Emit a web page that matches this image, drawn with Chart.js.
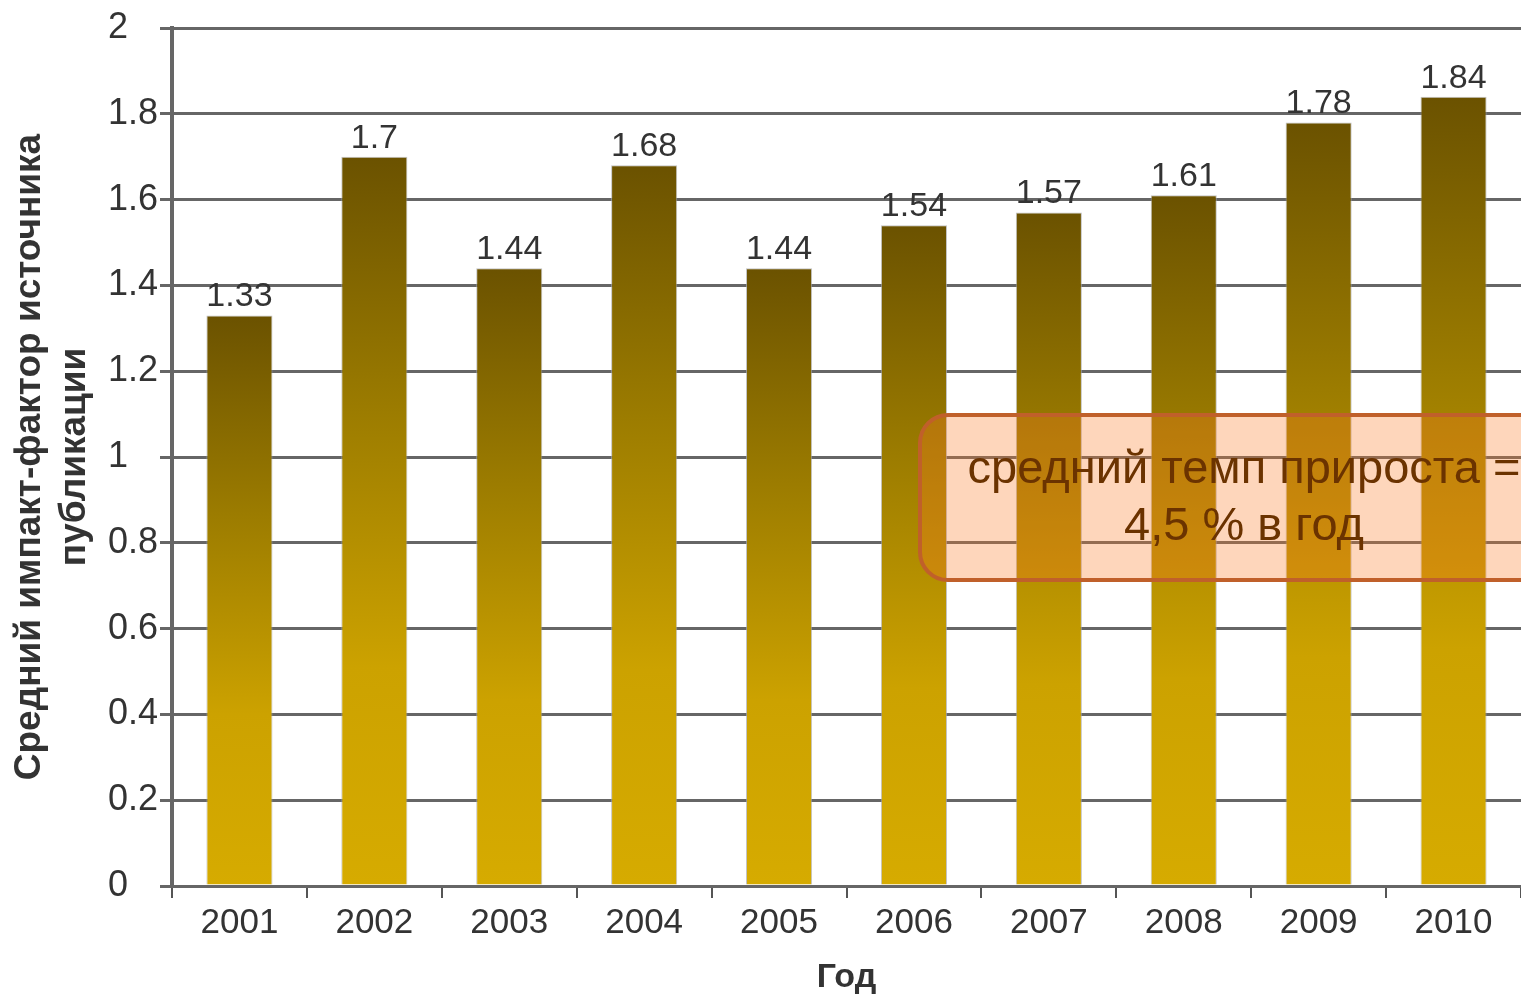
<!DOCTYPE html>
<html>
<head>
<meta charset="utf-8">
<title>Средний импакт-фактор</title>
<script src="https://cdn.jsdelivr.net/npm/chart.js@4/dist/chart.umd.min.js"></script>
<style>
  html, body { margin: 0; padding: 0; background: #fff; }
  #grafo { width: 1521px; height: 996px; }
</style>
</head>
<body>
<div id="grafo"><canvas id="impakt"></canvas></div>
<script>
const anos = ['2001', '2002', '2003', '2004', '2005', '2006', '2007', '2008', '2009', '2010'];
const valores = [1.33, 1.7, 1.44, 1.68, 1.44, 1.54, 1.57, 1.61, 1.78, 1.84];
const tituloY = ['Средний импакт-фактор источника', 'публикации'];
const tituloX = 'Год';
const nota = ['средний темп прироста =', '4,5 % в год'];

const fonte = 'Liberation Sans, Arial, sans-serif';

// gradient per bar: dark on top, yellow toward the bottom
function corBarra(ctx) {
  const chart = ctx.chart;
  const y = chart.scales.y;
  if (!chart.chartArea || !y || ctx.parsed == null) return '#c9a000';
  const topo = y.getPixelForValue(ctx.parsed.y);
  const base = y.getPixelForValue(0);
  const g = chart.ctx.createLinearGradient(0, topo, 0, base);
  g.addColorStop(0, '#6b5200');
  g.addColorStop(0.35, '#9c7c00');
  g.addColorStop(0.7, '#cca200');
  g.addColorStop(1, '#d6ab00');
  return g;
}

const rotulos = {
  id: 'rotulos',
  afterDatasetsDraw(chart) {
    const ctx = chart.ctx;
    const meta = chart.getDatasetMeta(0);
    ctx.save();
    ctx.font = '34px ' + fonte;
    ctx.fillStyle = '#333';
    ctx.textAlign = 'center';
    ctx.textBaseline = 'alphabetic';
    meta.data.forEach((bar, i) => {
      ctx.fillText(String(valores[i]), bar.x, bar.y - 9);
    });
    ctx.restore();
  }
};

// y tick labels are left aligned in the original
const rotulosY = {
  id: 'rotulosY',
  afterDraw(chart) {
    const ctx = chart.ctx;
    const y = chart.scales.y;
    ctx.save();
    ctx.font = '36px ' + fonte;
    ctx.fillStyle = '#333';
    ctx.textAlign = 'left';
    ctx.textBaseline = 'middle';
    y.ticks.forEach(t => {
      ctx.fillText(String(Math.round(t.value * 10) / 10), 108, y.getPixelForValue(t.value));
    });
    ctx.restore();
  }
};

const caixaNota = {
  id: 'caixaNota',
  afterDraw(chart) {
    const ctx = chart.ctx;
    const x = 920, y = 415, w = 680, h = 165, r = 28;
    ctx.save();
    ctx.beginPath();
    ctx.roundRect(x, y, w, h, r);
    ctx.fillStyle = 'rgba(252,122,36,0.31)';
    ctx.fill();
    ctx.lineWidth = 4;
    ctx.strokeStyle = '#c0602a';
    ctx.stroke();
    ctx.font = '47px ' + fonte;
    ctx.fillStyle = '#6b3300';
    ctx.textAlign = 'center';
    ctx.textBaseline = 'middle';
    ctx.fillText(nota[0], 1244, 470);
    ctx.fillText(nota[1], 1244, 527);
    ctx.restore();
  }
};

new Chart(document.getElementById('impakt'), {
  type: 'bar',
  data: {
    labels: anos,
    datasets: [{
      data: valores,
      backgroundColor: corBarra,
      borderColor: 'rgba(170,170,170,0.7)',
      borderWidth: 1,
      barPercentage: 0.49,
      categoryPercentage: 1.0
    }]
  },
  options: {
    responsive: true,
    maintainAspectRatio: false,
    animation: false,
    layout: { padding: { top: 28, right: 0, bottom: 0, left: 0 } },
    plugins: {
      legend: { display: false },
      tooltip: { enabled: false }
    },
    scales: {
      x: {
        offset: true,
        grid: {
          offset: true,
          drawOnChartArea: false,
          drawTicks: true,
          tickLength: 12,
          color: '#555',
          lineWidth: 2
        },
        border: { color: '#666', width: 3 },
        ticks: {
          color: '#333',
          font: { family: fonte, size: 35 },
          padding: 4,
          maxRotation: 0
        },
        title: {
          display: true,
          text: tituloX,
          color: '#333',
          font: { family: fonte, size: 34, weight: 'bold', lineHeight: 1.1 },
          padding: { top: 0, bottom: 0 }
        },
        afterFit(scale) { scale.width; scale.height = 110; }
      },
      y: {
        min: 0,
        max: 2,
        ticks: {
          stepSize: 0.2,
          color: 'rgba(0,0,0,0)',
          font: { family: fonte, size: 36 },
          padding: 2
        },
        grid: {
          color: '#666',
          lineWidth: 3,
          tickLength: 12
        },
        border: { color: '#666', width: 4 },
        title: {
          display: true,
          text: tituloY,
          color: '#333',
          font: { family: fonte, size: 37, weight: 'bold', lineHeight: 1.2 },
          padding: { top: 8, bottom: 0 }
        },
        afterFit(scale) { scale.width = 172; }
      }
    }
  },
  plugins: [rotulos, rotulosY, caixaNota]
});
</script>
</body>
</html>
